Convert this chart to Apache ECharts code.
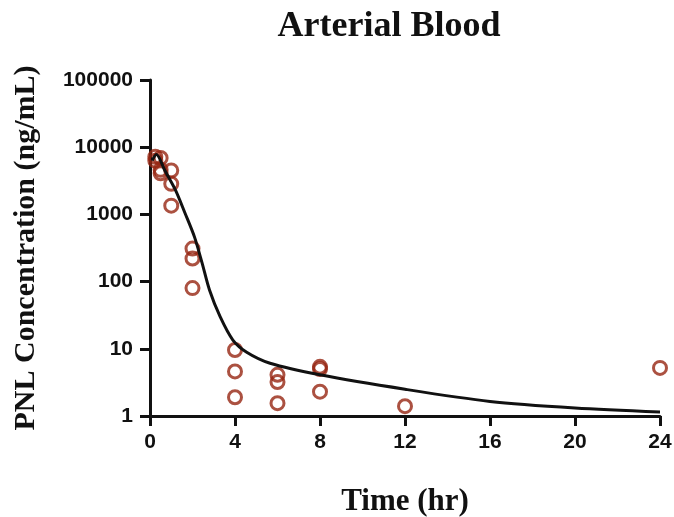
<!DOCTYPE html>
<html>
<head>
<meta charset="utf-8">
<script src="https://cdn.jsdelivr.net/npm/echarts@6/dist/echarts.min.js"></script>
<style>html,body{margin:0;padding:0;background:#fff}#c{width:674px;height:517px}</style>
</head>
<body>
<div id="c"></div>
<script>
var xTicks = [0, 4, 8, 12, 16, 20, 24];
var yTicks = [1, 10, 100, 1000, 10000, 100000];
var obsTime = [0.25, 0.25, 0.5, 0.5, 0.5, 1, 1, 1, 2, 2, 2, 4, 4, 4, 6, 6, 6, 8, 8, 8, 12, 24];
var obsConc = [7200, 6300, 6900, 4600, 4100, 4500, 2850, 1350, 310, 220, 80, 9.6, 4.6, 1.9, 4.1, 3.2, 1.55, 5.4, 5.0, 2.3, 1.4, 5.2];
var fitTime = [0.1, 0.3, 0.7, 1.2, 1.65, 2.1, 2.45, 2.8, 3.3, 3.9, 4.55, 5.65, 8, 12, 16, 20, 24];
var fitConc = [6300, 7800, 4500, 2300, 1040, 455, 190, 75, 30, 13.5, 8.9, 6.1, 4.1, 2.5, 1.65, 1.32, 1.15];

var obs = obsTime.map(function (t, i) { return [t, obsConc[i]]; });
var fit = fitTime.map(function (t, i) { return [t, fitConc[i]]; });

var chart = echarts.init(document.getElementById('c'), null, {renderer: 'canvas'});
var sans = '"Liberation Sans", Arial, sans-serif';
var serif = '"Liberation Serif", "Times New Roman", serif';
chart.setOption({
  animation: false,
  backgroundColor: '#fff',
  title: {
    text: 'Arterial Blood',
    left: 384, top: 4, textAlign: 'center',
    textStyle: {fontFamily: serif, fontWeight: 'bold', fontSize: 36, color: '#111'}
  },
  grid: {left: 150, right: 14, top: 80, bottom: 101, containLabel: false, outerBoundsMode: 'none'},
  xAxis: {
    type: 'value', min: xTicks[0], max: xTicks[xTicks.length - 1], interval: 4,
    name: 'Time (hr)', nameLocation: 'middle', nameGap: 70,
    nameTextStyle: {fontFamily: serif, fontWeight: 'bold', fontSize: 31, color: '#111'},
    axisLine: {lineStyle: {color: '#111', width: 3}},
    axisTick: {show: true, length: 10, lineStyle: {color: '#111', width: 3}},
    axisLabel: {margin: 16, fontFamily: sans, fontWeight: 'bold', fontSize: 21, color: '#111',
      formatter: function (v) { return xTicks.indexOf(v) >= 0 ? String(v) : ''; }},
    splitLine: {show: false}
  },
  yAxis: {
    type: 'log', logBase: 10, min: yTicks[0], max: yTicks[yTicks.length - 1],
    name: 'PNL Concentration (ng/mL)', nameLocation: 'middle', nameGap: 109,
    nameTextStyle: {fontFamily: serif, fontWeight: 'bold', fontSize: 30, color: '#111'},
    axisLine: {show: true, lineStyle: {color: '#111', width: 3}},
    axisTick: {show: true, length: 10, lineStyle: {color: '#111', width: 3}},
    axisLabel: {margin: 17, fontFamily: sans, fontWeight: 'bold', fontSize: 21, color: '#111',
      formatter: function (v) { return String(Math.round(v)); }},
    splitLine: {show: false}
  },
  series: [
    {
      type: 'line', data: fit, smooth: 0.3, symbol: 'none', z: 3,
      lineStyle: {color: '#111', width: 3}
    },
    {
      type: 'scatter', data: obs, symbol: 'circle', symbolSize: 13, z: 2,
      itemStyle: {color: 'rgba(0,0,0,0)', borderColor: '#962512', borderWidth: 3}
    }
  ]
});
</script>
</body>
</html>
